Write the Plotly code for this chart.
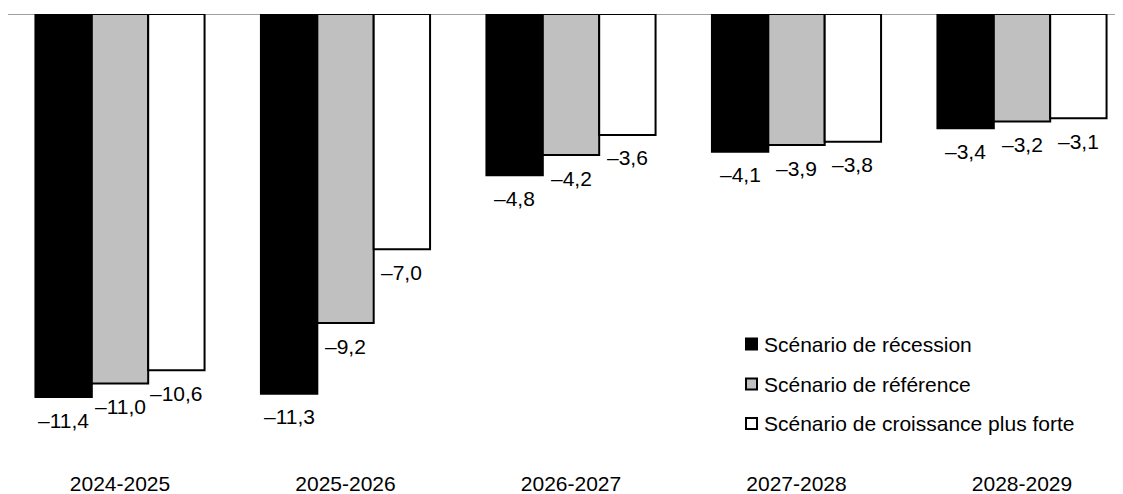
import plotly.graph_objects as go

categories = ["2024-2025", "2025-2026", "2026-2027", "2027-2028", "2028-2029"]
series_names = ["Scénario de récession", "Scénario de référence", "Scénario de croissance plus forte"]
recession = [-11.4, -11.3, -4.8, -4.1, -3.4]
reference = [-11.0, -9.2, -4.2, -3.9, -3.2]
croissance = [-10.6, -7.0, -3.6, -3.8, -3.1]
series_values = [recession, reference, croissance]
fill_colors = ["#000000", "#c0c0c0", "#ffffff"]

FONT = "Liberation Sans, Arial, sans-serif"
# the page body adds an 8px offset; compensate so the figure fills the window
OFF = 8
PAGE_W, PAGE_H = 1123, 494
W, H = PAGE_W - OFF, PAGE_H - OFF
PLOT_L, PLOT_R, PLOT_T, PLOT_B = 8, 1120, 14, 469  # page pixels
ML = PLOT_L - OFF
MR = (OFF + W) - PLOT_R
MT = PLOT_T - OFF
MB = (OFF + H) - PLOT_B
plot_w = PLOT_R - PLOT_L
plot_h = PLOT_B - PLOT_T
PX_PER_UNIT = 33.6
y_min = -plot_h / PX_PER_UNIT
cat_px = 225.5
x_lo = -112 / cat_px
x_hi = x_lo + plot_w / cat_px
bargap = 0.25
bar_px = cat_px * (1 - bargap) / 3


def fmt(v):
    s = f"{v:.1f}".replace(".", ",")
    return s.replace("-", "\u2013")


def paper_x(px):
    return (px - PLOT_L) / plot_w


def paper_y(py):
    return (PLOT_B - py) / plot_h


fig = go.Figure()
for name, vals, col in zip(series_names, series_values, fill_colors):
    fig.add_trace(go.Bar(
        x=categories, y=vals, name=name,
        marker=dict(color=col, line=dict(color="#000000", width=2)),
        showlegend=False,
    ))

annotations = []
for i, vals in enumerate(series_values):
    shift = (i - 1) * bar_px
    for c, v in zip(categories, vals):
        annotations.append(dict(
            x=c, y=v, xref="x", yref="y", text=fmt(v), showarrow=False,
            xshift=shift, yshift=-23, yanchor="middle", xanchor="center",
            font=dict(family=FONT, size=21, color="#000000"),
        ))

# legend built as squares + labels
leg_sq_x = 751.5
leg_text_x = 762
leg_y = [344, 384, 423.5]
shapes = [dict(type="line", xref="paper", yref="y", x0=0, x1=1, y0=0, y1=0,
               line=dict(color="#808080", width=1.5), layer="below")]
for name, col, py in zip(series_names, fill_colors, leg_y):
    shapes.append(dict(type="rect", xref="paper", yref="paper",
                       x0=paper_x(leg_sq_x - 5.5), x1=paper_x(leg_sq_x + 5.5),
                       y0=paper_y(py + 5.5), y1=paper_y(py - 5.5),
                       fillcolor=col, line=dict(color="#000000", width=2)))
    annotations.append(dict(
        x=paper_x(leg_text_x), y=paper_y(py), xref="paper", yref="paper",
        text=name, showarrow=False, xanchor="left", yanchor="middle",
        font=dict(family=FONT, size=21, color="#000000"),
    ))

fig.update_layout(
    width=W, height=H,
    margin=dict(l=ML, r=MR, t=MT, b=MB, pad=0),
    paper_bgcolor="#ffffff", plot_bgcolor="#ffffff",
    barmode="group", bargap=bargap, bargroupgap=0,
    font=dict(family=FONT, size=21, color="#000000"),
    xaxis=dict(type="category", range=[x_lo, x_hi], showgrid=False, showline=False,
               ticks="", tickfont=dict(family=FONT, size=21, color="#000000")),
    yaxis=dict(range=[y_min, 0], showgrid=False, zeroline=False, showline=False,
               showticklabels=False, ticks=""),
    shapes=shapes,
    annotations=annotations,
)

fig.write_html("out.html")
